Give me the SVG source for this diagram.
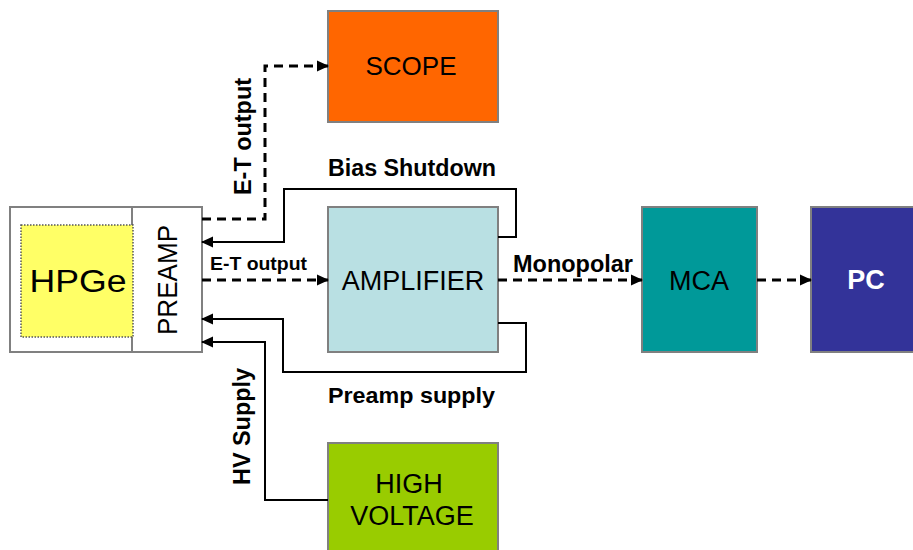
<svg xmlns="http://www.w3.org/2000/svg" width="913" height="550" viewBox="0 0 913 550">
<defs>
<marker id="ah" markerWidth="12" markerHeight="12" refX="11" refY="6" orient="auto" markerUnits="userSpaceOnUse">
<path d="M0,0.5 L12,6 L0,11.5 Z" fill="#000"/>
</marker>
<style>
.box{stroke:#808080;stroke-width:2}
.lbl{font-family:"Liberation Sans",Arial,sans-serif;font-size:27px;fill:#000;text-anchor:middle}
.cl{font-family:"Liberation Sans",Arial,sans-serif;font-weight:bold;fill:#000}
.dash{fill:none;stroke:#000;stroke-width:3;stroke-dasharray:9,6}
.solid{fill:none;stroke:#000;stroke-width:2}
</style>
</defs>
<rect width="913" height="550" fill="#fff"/>

<g id="detector">
<rect x="10" y="207" width="192" height="145" fill="#fff" class="box"/>
<line x1="132" y1="207" x2="132" y2="352" stroke="#808080" stroke-width="2"/>
<rect x="21" y="225" width="112" height="112" fill="#FFFF66" stroke="#555" stroke-width="1.5" stroke-dasharray="1.5,1.5"/>
<text x="78" y="292" class="lbl" style="font-size:31px" textLength="97" lengthAdjust="spacingAndGlyphs">HPGe</text>
<text transform="translate(177,280) rotate(-90)" class="lbl" style="font-size:28px" textLength="110" lengthAdjust="spacingAndGlyphs">PREAMP</text>
</g>

<g id="scope">
<rect x="328" y="11" width="170" height="111" fill="#FF6600" class="box"/>
<text x="411" y="75" class="lbl" style="font-size:26px">SCOPE</text>
</g>

<g id="amplifier">
<rect x="328" y="207" width="170" height="145" fill="#B9E0E3" class="box"/>
<text x="413" y="290" class="lbl">AMPLIFIER</text>
</g>

<g id="mca">
<rect x="642" y="207" width="115" height="145" fill="#009999" class="box"/>
<text x="699" y="290" class="lbl">MCA</text>
</g>

<g id="pc">
<rect x="811" y="207" width="110" height="145" fill="#333399" class="box"/>
<text x="866" y="289" class="lbl" style="fill:#fff;font-weight:bold">PC</text>
</g>

<g id="highvoltage">
<rect x="328" y="443" width="170" height="120" fill="#99CC00" class="box"/>
<text x="409" y="493" class="lbl">HIGH</text>
<text x="412" y="525" class="lbl">VOLTAGE</text>
</g>

<g id="connectors">
<path d="M202,219 H265 V66 H328" class="dash" marker-end="url(#ah)"/>
<path d="M202,280 H328" class="dash" marker-end="url(#ah)"/>
<path d="M498,280 H642" class="dash" marker-end="url(#ah)"/>
<path d="M757,280 H811" class="dash" marker-end="url(#ah)"/>
<path d="M498,237 H516 V189 H284 V242 H202" class="solid" marker-end="url(#ah)"/>
<path d="M498,323 H526 V372 H283 V319 H202" class="solid" marker-end="url(#ah)"/>
<path d="M328,500 H265 V342 H202" class="solid" marker-end="url(#ah)"/>
<text transform="translate(251,136.5) rotate(-90)" class="cl" style="font-size:23px" text-anchor="middle" textLength="117" lengthAdjust="spacingAndGlyphs">E-T output</text>
<text x="210" y="270" class="cl" style="font-size:19px" textLength="97" lengthAdjust="spacingAndGlyphs">E-T output</text>
<text x="328" y="176" class="cl" style="font-size:23px" textLength="168" lengthAdjust="spacingAndGlyphs">Bias Shutdown</text>
<text x="513" y="272" class="cl" style="font-size:23px" textLength="120" lengthAdjust="spacingAndGlyphs">Monopolar</text>
<text x="328" y="403" class="cl" style="font-size:22px" textLength="167" lengthAdjust="spacingAndGlyphs">Preamp supply</text>
<text transform="translate(250,426.5) rotate(-90)" class="cl" style="font-size:23px" text-anchor="middle" textLength="117" lengthAdjust="spacingAndGlyphs">HV Supply</text>
</g>
</svg>
